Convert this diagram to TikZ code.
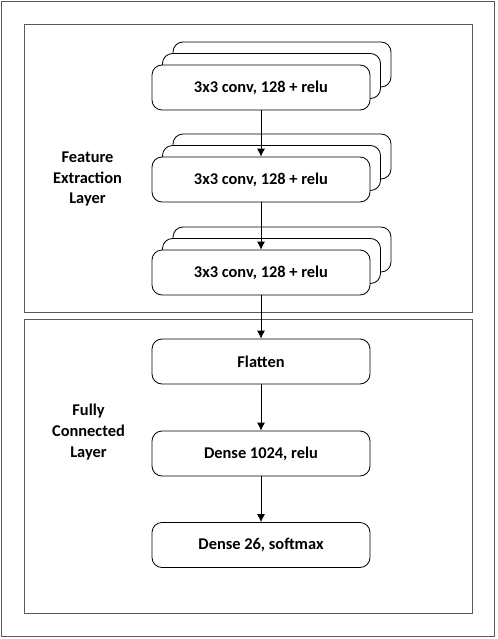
\documentclass[tikz,border=0pt]{standalone}
\usepackage{fontspec}
\setmainfont{Carlito}
\usetikzlibrary{arrows.meta}
\begin{document}
\begin{tikzpicture}[x=0.75pt,y=-0.75pt,
    layer/.style={draw=black,fill=white,line width=.6pt,rounded corners=7.5pt,minimum width=163.5pt,minimum height=33.75pt,font=\bfseries\fontsize{12.3}{14}\selectfont},
    panel/.style={draw=black!65,line width=.7pt},
    caption/.style={align=center,font=\bfseries\fontsize{12.3}{15.4}\selectfont},
    flow/.style={line width=.6pt,-{Latex[length=6pt,width=6pt]}}]
    \useasboundingbox (0,0) rectangle (497,639);
    % frames
    \draw[panel] (1.5,1.5) rectangle (494,636.5);
    \draw[panel] (24.5,24.5) rectangle (472,312);
    \draw[panel] (24.5,319) rectangle (472,613);
    % feature extraction
    \node[caption] (fe) at (87.5,179) {Feature\\Extraction\\Layer};
    \foreach \n/\y in {c1/87.5,c2/179.5,c3/272.5} {
        \node[layer] (\n b) at (282,\y-23) {};
        \node[layer] (\n m) at (271.5,\y-11.5) {};
        \node[layer] (\n) at (261,\y) {3x3 conv, 128 + relu};
    }
    % fully connected
    \node[caption] (fc) at (88.5,432) {Fully\\Connected\\Layer};
    \node[layer] (fl) at (261,361.5) {Flatten};
    \node[layer] (d1) at (261,453.5) {Dense 1024, relu};
    \node[layer] (d2) at (261,545) {Dense 26, softmax};
    \draw[flow] (c1) -- (c2);
    \draw[flow] (c2) -- (c3);
    \draw[flow] (c3) -- (fl);
    \draw[flow] (fl) -- (d1);
    \draw[flow] (d1) -- (d2);
\end{tikzpicture}
\end{document}
